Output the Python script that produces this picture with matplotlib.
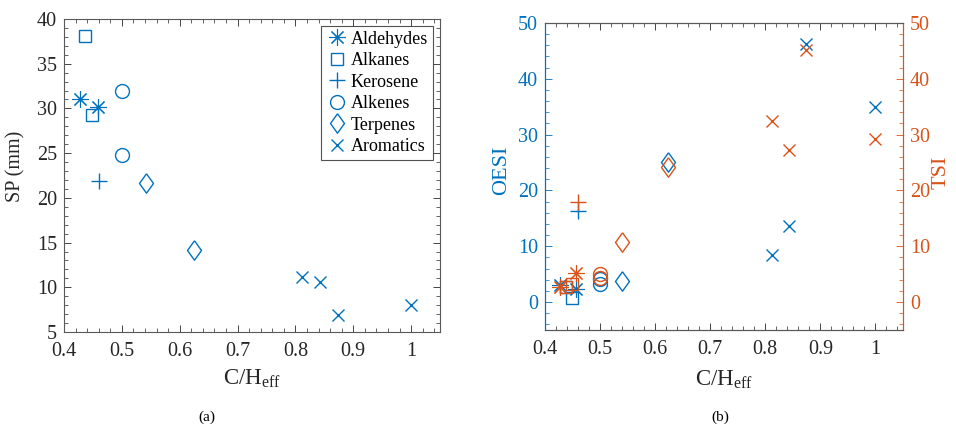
import matplotlib
matplotlib.use("Agg")
import matplotlib.pyplot as plt
from matplotlib.ticker import MultipleLocator

plt.rcParams['font.family'] = ['Liberation Serif', 'DejaVu Serif']
plt.rcParams['mathtext.fontset'] = 'custom'
plt.rcParams['mathtext.rm'] = 'Liberation Serif'
plt.rcParams['mathtext.it'] = 'Liberation Serif:italic'

groups = ['Aldehydes', 'Alkanes', 'Kerosene', 'Alkenes', 'Terpenes', 'Aromatics']

# (a) smoke point vs C/H_eff
sp_x = {
    'Aldehydes': [0.428, 0.458],
    'Alkanes': [0.437, 0.449],
    'Kerosene': [0.461],
    'Alkenes': [0.5, 0.5],
    'Terpenes': [0.541, 0.625],
    'Aromatics': [0.8115, 0.843, 0.874, 1.0],
}
sp_y = {
    'Aldehydes': [31.0, 30.2],
    'Alkanes': [38.1, 29.3],
    'Kerosene': [21.9],
    'Alkenes': [32.0, 24.8],
    'Terpenes': [21.7, 14.2],
    'Aromatics': [11.1, 10.6, 6.9, 8.0],
}

# (b) OESI and TSI vs C/H_eff
b_x = {
    'Aldehydes': [0.427, 0.457],
    'Alkanes': [0.438, 0.449],
    'Kerosene': [0.46],
    'Alkenes': [0.5, 0.5],
    'Terpenes': [0.54, 0.624],
    'Aromatics': [0.8115, 0.843, 0.874, 1.0],
}
oesi = {
    'Aldehydes': [3.05, 2.3],
    'Alkanes': [2.7, 0.7],
    'Kerosene': [16.3],
    'Alkenes': [3.2, 4.2],
    'Terpenes': [3.8, 25.1],
    'Aromatics': [8.4, 13.6, 46.3, 35.0],
}
tsi = {
    'Aldehydes': [2.7, 5.3],
    'Alkanes': [2.7, 3.2],
    'Kerosene': [18.0],
    'Alkenes': [4.4, 5.0],
    'Terpenes': [10.8, 24.2],
    'Aromatics': [32.4, 27.2, 45.2, 29.2],
}

diamond = [(0, 1), (0.72, 0), (0, -1), (-0.72, 0), (0, 1)]
markers = {
    'Aldehydes': ((8, 2, 0), 12, 0.8),
    'Alkanes': ('s', 9, 1.0),
    'Kerosene': ('+', 12, 1.0),
    'Alkenes': ('o', 10, 1.0),
    'Terpenes': (diamond, 14, 1.0),
    'Aromatics': ('x', 8, 1.0),
}

BLUE = '#0072BD'
ORANGE = '#D95319'
GREY = '#262626'
SPINE = '#595959'
TICKFS = 14.5
xt = [0.4, 0.5, 0.6, 0.7, 0.8, 0.9, 1.0]
xtl = ['0.4', '0.5', '0.6', '0.7', '0.8', '0.9', '1']

fig = plt.figure(figsize=(9.56, 4.28), dpi=100)

# ---------- (a) ----------
axa = fig.add_axes([64/956, 1-332/428, 376/956, 313/428])
for g in groups:
    m, ms, mw = markers[g]
    axa.plot(sp_x[g], sp_y[g], linestyle='none', marker=m, ms=ms,
             mfc='none', mec=BLUE, mew=mw, label=g)
axa.set_xlim(0.4, 1.05)
axa.set_ylim(5, 40)
axa.set_xticks(xt)
axa.set_xticklabels(xtl)
axa.xaxis.set_minor_locator(MultipleLocator(0.02))
axa.yaxis.set_major_locator(MultipleLocator(5))
axa.yaxis.set_minor_locator(MultipleLocator(1))
axa.tick_params(which='both', direction='in', top=True, right=True,
                labelsize=TICKFS, colors=GREY)
axa.tick_params(which='major', length=5, width=0.6)
axa.tick_params(which='minor', length=3, width=0.5)
axa.tick_params(axis='x', pad=7)
axa.tick_params(axis='y', pad=5)
for s in axa.spines.values():
    s.set_color(SPINE)
    s.set_linewidth(0.8)
axa.set_ylabel('SP (mm)', fontsize=14.5, color=GREY)
axa.yaxis.set_label_coords(-0.102, 0.53)
axa.set_xlabel('C/H$_{\\mathrm{eff}}$', fontsize=16.5, color=GREY)
axa.xaxis.set_label_coords(0.5, -0.115)
leg = axa.legend(loc='upper right', fontsize=13, frameon=True, fancybox=False,
                 edgecolor=GREY, borderpad=0.25, labelspacing=0.25,
                 handletextpad=0.2, handlelength=1.2, borderaxespad=0.4)
leg.get_frame().set_linewidth(0.8)
fig.text(207/956, 1-417/428, '(a)', ha='center', va='center', fontsize=11)

# ---------- (b) ----------
axb = fig.add_axes([545/956, 1-330/428, 358/956, 307/428])
axr = axb.twinx()
for g in groups:
    m, ms, mw = markers[g]
    axb.plot(b_x[g], oesi[g], linestyle='none', marker=m, ms=ms,
             mfc='none', mec=BLUE, mew=mw, zorder=2)
    axr.plot(b_x[g], tsi[g], linestyle='none', marker=m, ms=ms,
             mfc='none', mec=ORANGE, mew=mw, zorder=3)
for ax in (axb, axr):
    ax.set_xlim(0.4, 1.05)
    ax.set_ylim(-5, 50)
    ax.yaxis.set_major_locator(MultipleLocator(10))
    ax.yaxis.set_minor_locator(MultipleLocator(2))
axb.set_xticks(xt)
axb.set_xticklabels(xtl)
axb.xaxis.set_minor_locator(MultipleLocator(0.02))
axb.tick_params(which='both', direction='in', top=True, right=False,
                labelsize=TICKFS)
axb.tick_params(axis='x', which='both', colors=GREY, pad=7)
axb.tick_params(axis='y', which='both', colors=BLUE, pad=5)
axb.tick_params(which='major', length=5, width=0.6)
axb.tick_params(which='minor', length=3, width=0.5)
axr.tick_params(which='both', direction='in', labelsize=TICKFS,
                colors=ORANGE, pad=5)
axr.tick_params(which='major', length=5, width=0.6)
axr.tick_params(which='minor', length=3, width=0.5)
for ax in (axb, axr):
    for k in ('top', 'bottom'):
        ax.spines[k].set_color(SPINE)
        ax.spines[k].set_linewidth(0.8)
    ax.spines['left'].set_color(BLUE)
    ax.spines['right'].set_color(ORANGE)
    ax.spines['left'].set_linewidth(0.8)
    ax.spines['right'].set_linewidth(0.8)
axb.set_ylabel('OESI', fontsize=16, color=BLUE)
axb.yaxis.set_label_coords(-0.095, 0.52)
axr.set_ylabel('TSI', fontsize=16, color=ORANGE)
axr.yaxis.set_label_coords(1.081, 0.515)
axb.set_xlabel('C/H$_{\\mathrm{eff}}$', fontsize=16.5, color=GREY)
axb.xaxis.set_label_coords(0.5, -0.125)
fig.text(720/956, 1-417/428, '(b)', ha='center', va='center', fontsize=11)

fig.savefig('out.png', dpi=100)
